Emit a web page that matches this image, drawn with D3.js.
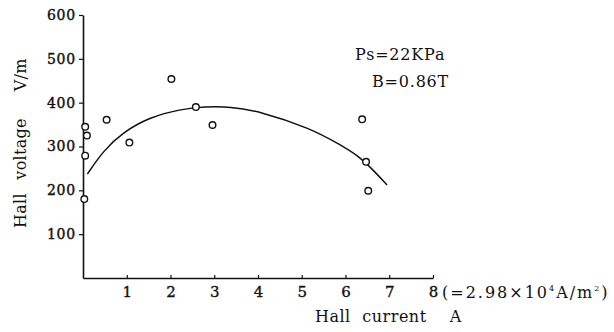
<!DOCTYPE html>
<html>
<head>
<meta charset="utf-8">
<script src="https://cdn.jsdelivr.net/npm/d3@7"></script>
<style>
  body { margin: 0; background: #fff; }
  svg text { font-family: "DejaVu Serif", "Liberation Serif", serif; fill: #111; }
</style>
</head>
<body>
<div id="chart"></div>
<script>
// measured points (Hall current A, Hall voltage V/m)
var pointX = [0.05, 0.09, 0.05, 0.03, 0.54, 1.06, 2.02, 2.58, 2.96, 6.38, 6.47, 6.52];
var pointY = [345, 325, 279, 180, 361, 309, 454, 390, 349, 362, 265, 199];

// fitted curve
var curveX = [0.1, 0.46, 0.92, 1.53, 2.22, 2.79, 3.36, 4.05, 5.19, 5.88, 6.26, 6.64, 6.95];
var curveY = [237, 290, 333, 367, 385, 391, 391, 380, 342, 304, 281, 246, 212];

var xTicks = [1, 2, 3, 4, 5, 6, 7, 8];
var yTicks = [100, 200, 300, 400, 500, 600];

var width = 614, height = 332;
var margin = {top: 15, left: 83, bottom: 54};

var x = d3.scaleLinear().domain([0, 8]).range([margin.left, 433]);
var y = d3.scaleLinear().domain([0, 600]).range([height - margin.bottom, margin.top]);

var svg = d3.select("#chart").append("svg")
  .attr("width", width)
  .attr("height", height);

// axes
var xAxis = d3.axisBottom(x).tickValues(xTicks).tickSizeInner(-3).tickSizeOuter(0).tickPadding(8);
var yAxis = d3.axisLeft(y).tickValues(yTicks).tickSizeInner(4).tickSizeOuter(0).tickPadding(3);

var gx = svg.append("g")
  .attr("transform", "translate(0," + y(0) + ")")
  .call(xAxis);
gx.select(".domain").attr("stroke", "#111").attr("stroke-width", 1.6);
gx.selectAll(".tick line").attr("stroke", "#111").attr("stroke-width", 1.2);
gx.selectAll(".tick text").attr("font-size", 15).attr("fill", "#111")
  .attr("stroke", "#111").attr("stroke-width", 0.35);

var gy = svg.append("g")
  .attr("transform", "translate(" + x(0) + ",0)")
  .call(yAxis);
gy.select(".domain").attr("stroke", "#111").attr("stroke-width", 1.6);
gy.selectAll(".tick line").attr("stroke", "#111").attr("stroke-width", 1.2);
gy.selectAll(".tick text").attr("font-size", 14).attr("fill", "#111")
  .attr("letter-spacing", 0.8)
  .attr("stroke", "#111").attr("stroke-width", 0.4);

// curve
var curveData = curveX.map((d, i) => ({x: d, y: curveY[i]}));
var line = d3.line()
  .x(d => x(d.x))
  .y(d => y(d.y))
  .curve(d3.curveBasis);

svg.append("path")
  .datum(curveData)
  .attr("d", line)
  .attr("fill", "none")
  .attr("stroke", "#111")
  .attr("stroke-width", 1.5);

// measured points
var pts = pointX.map((d, i) => ({x: d, y: pointY[i]}));
svg.append("g").selectAll("circle")
  .data(pts)
  .enter()
  .append("circle")
  .attr("cx", d => x(d.x))
  .attr("cy", d => y(d.y))
  .attr("r", 3.3)
  .attr("fill", "#fff")
  .attr("stroke", "#111")
  .attr("stroke-width", 1.4);

// unit note after the last tick
svg.append("text")
  .attr("x", 442)
  .attr("y", 298)
  .attr("font-size", 16)
  .attr("letter-spacing", 2)
  .html('(=2.98×10<tspan font-size="8" dy="-7">4</tspan><tspan dy="7">A/m</tspan><tspan font-size="8" dy="-7">2</tspan><tspan dy="7">)</tspan>');

// axis titles
svg.append("text")
  .attr("x", 315)
  .attr("y", 322)
  .attr("font-size", 16)
  .attr("letter-spacing", 0.5)
  .attr("word-spacing", 6)
  .style("white-space", "pre")
  .text("Hall current  A");

svg.append("text")
  .attr("transform", "translate(26,228) rotate(-90)")
  .attr("font-size", 16)
  .attr("letter-spacing", 0.3)
  .attr("word-spacing", 8)
  .style("white-space", "pre")
  .text("Hall voltage  V/m");

// condition labels
svg.append("text")
  .attr("x", 355)
  .attr("y", 60)
  .attr("font-size", 16)
  .attr("letter-spacing", 0.8)
  .text("Ps=22KPa");

svg.append("text")
  .attr("x", 372)
  .attr("y", 87)
  .attr("font-size", 16)
  .attr("letter-spacing", 0.8)
  .text("B=0.86T");
</script>
</body>
</html>
